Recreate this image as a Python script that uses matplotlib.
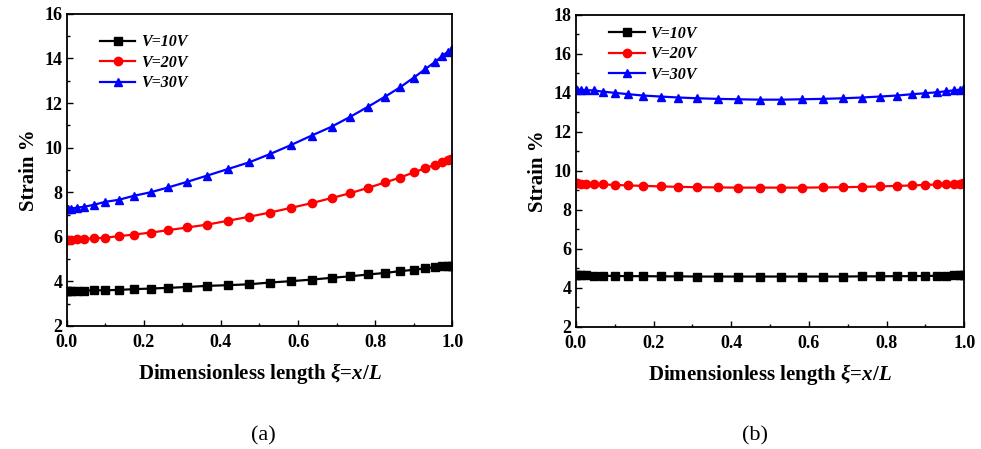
import numpy as np
import matplotlib
matplotlib.use('Agg')
import matplotlib.pyplot as plt
from matplotlib.ticker import MultipleLocator

plt.rcParams['font.family'] = 'Liberation Serif'
plt.rcParams['mathtext.fontset'] = 'custom'
plt.rcParams['mathtext.it'] = 'Liberation Serif:italic:bold'
plt.rcParams['mathtext.rm'] = 'Liberation Serif:bold'
plt.rcParams['mathtext.bf'] = 'Liberation Serif:bold'

# node positions along the beam (dense near both ends)
xi = [0.0, 0.003, 0.012, 0.026, 0.046, 0.071, 0.100, 0.135, 0.174, 0.218,
      0.264, 0.313, 0.365, 0.418, 0.473, 0.527, 0.582, 0.635, 0.687, 0.736,
      0.782, 0.826, 0.865, 0.900, 0.929, 0.954, 0.974, 0.988, 0.997, 1.0]

# panel (a)
a_10 = [3.59, 3.59, 3.59, 3.59, 3.59, 3.60, 3.60, 3.62, 3.65, 3.68,
        3.71, 3.75, 3.80, 3.83, 3.87, 3.95, 4.01, 4.08, 4.16, 4.23,
        4.31, 4.38, 4.46, 4.52, 4.58, 4.64, 4.67, 4.69, 4.70, 4.70]
a_20 = [5.85, 5.86, 5.87, 5.89, 5.91, 5.93, 5.96, 6.03, 6.10, 6.19,
        6.30, 6.42, 6.55, 6.72, 6.90, 7.09, 7.30, 7.51, 7.74, 7.96,
        8.20, 8.44, 8.66, 8.89, 9.07, 9.23, 9.35, 9.43, 9.48, 9.50]
a_30 = [7.23, 7.24, 7.27, 7.31, 7.35, 7.44, 7.57, 7.66, 7.84, 8.00,
        8.22, 8.47, 8.75, 9.04, 9.34, 9.71, 10.12, 10.54, 10.94, 11.39,
        11.84, 12.29, 12.71, 13.14, 13.51, 13.83, 14.11, 14.30, 14.38, 14.41]

# panel (b)
b_10 = [4.65, 4.65, 4.65, 4.64, 4.63, 4.62, 4.61, 4.60, 4.60, 4.59,
        4.59, 4.58, 4.58, 4.58, 4.58, 4.58, 4.58, 4.58, 4.58, 4.59,
        4.59, 4.60, 4.60, 4.61, 4.62, 4.63, 4.64, 4.65, 4.65, 4.65]
b_20 = [9.36, 9.36, 9.35, 9.34, 9.32, 9.30, 9.28, 9.25, 9.23, 9.20,
        9.18, 9.16, 9.15, 9.14, 9.14, 9.14, 9.14, 9.15, 9.16, 9.18,
        9.20, 9.23, 9.25, 9.28, 9.30, 9.32, 9.34, 9.35, 9.36, 9.36]
b_30 = [14.18, 14.17, 14.15, 14.14, 14.12, 14.06, 14.00, 13.93, 13.86, 13.81,
        13.76, 13.72, 13.69, 13.67, 13.65, 13.65, 13.67, 13.69, 13.72, 13.76,
        13.81, 13.86, 13.93, 13.98, 14.03, 14.08, 14.13, 14.16, 14.18, 14.18]

labels = ['V=10V', 'V=20V', 'V=30V']
colors = ['black', 'red', 'blue']
markers = ['s', 'o', '^']

fig = plt.figure(figsize=(9.81, 4.49), dpi=100)
ax1 = fig.add_axes([0.068, 0.274, 0.393, 0.695])
ax2 = fig.add_axes([0.587, 0.272, 0.396, 0.695])


def draw(ax, series, ymax, legend_y):
    for ys, c, m, lab in zip(series, colors, markers, labels):
        ax.plot(xi, ys, color=c, marker=m, markersize=6, linewidth=1.6, label=lab)
    ax.set_xlim(0, 1)
    ax.set_ylim(2, ymax)
    ax.xaxis.set_major_locator(MultipleLocator(0.2))
    ax.xaxis.set_minor_locator(MultipleLocator(0.1))
    ax.yaxis.set_major_locator(MultipleLocator(2))
    ax.yaxis.set_minor_locator(MultipleLocator(1))
    ax.tick_params(which='both', direction='in', top=False, right=False, labelsize=13)
    ax.tick_params(which='major', length=4, width=1)
    ax.tick_params(which='minor', length=2.5, width=1)
    ax.tick_params(axis='x', pad=6)
    ax.tick_params(axis='y', pad=3)
    for lab in ax.get_xticklabels() + ax.get_yticklabels():
        lab.set_fontweight('bold')
    for sp in ax.spines.values():
        sp.set_linewidth(1.3)
    ax.set_xlabel(r'Dimensionless length $\xi$=$x/L$', fontsize=15, fontweight='bold', labelpad=7)
    ax.set_ylabel('Strain %', fontsize=15, fontweight='bold', labelpad=4)
    ax.legend(loc='upper left', bbox_to_anchor=(0.07, legend_y), frameon=False,
              prop={'weight': 'bold', 'style': 'italic', 'size': 11.5},
              handlelength=2.2, handletextpad=0.35, labelspacing=0.28, borderaxespad=0)


draw(ax1, [a_10, a_20, a_30], 16, 0.955)
draw(ax2, [b_10, b_20, b_30], 18, 0.985)

fig.text(0.268, 0.02, '(a)', fontsize=16, ha='center')
fig.text(0.770, 0.02, '(b)', fontsize=16, ha='center')

fig.savefig('out.png', dpi=100)
